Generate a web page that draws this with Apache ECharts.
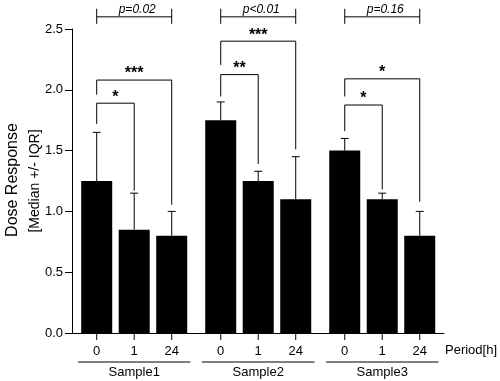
<!DOCTYPE html>
<html>
<head>
<meta charset="utf-8">
<script src="https://cdn.jsdelivr.net/npm/echarts@6/dist/echarts.min.js"></script>
<style>html,body{margin:0;padding:0;background:#fff}#c{width:500px;height:381px}</style>
</head>
<body>
<div id="c"></div>
<script>
// ---- data ----
const categories = ['Sample1', 'Sample2', 'Sample3'];
const periods = ['0', '1', '24'];
const median = [[1.25, 0.85, 0.80], [1.75, 1.25, 1.10], [1.50, 1.10, 0.80]];
const upperIQR = [[1.65, 1.15, 1.00], [1.90, 1.33, 1.45], [1.60, 1.15, 1.00]];
const pValues = ['p=0.02', 'p<0.01', 'p=0.16'];
const pLevel = [2.6, 2.6, 2.6];
// significance brackets: [group, fromPeriod, toPeriod, level, leftLegEnd, rightLegEnd]
const sigMarks = ['*', '***', '**', '***', '*', '*'];
const sigBrackets = [
  [0, 0, 1, 1.89, 1.72, 1.17],
  [0, 0, 2, 2.08, 1.96, 1.055],
  [1, 0, 1, 2.125, 1.945, 1.39],
  [1, 0, 2, 2.40, 2.205, 1.51],
  [2, 0, 1, 1.875, 1.66, 1.18],
  [2, 0, 2, 2.09, 1.945, 1.08]
];
const yTicks = [0, 0.5, 1.0, 1.5, 2.0, 2.5];

// ---- layout helpers ----
const GROUP_STEP = 3.307;
const pos = (g, i) => g * GROUP_STEP + i;
const FONT = '"Liberation Sans", Arial, sans-serif';

const barData = [];
const errData = [];
const tickData = [];
categories.forEach((c, g) => {
  periods.forEach((p, i) => {
    barData.push([pos(g, i), median[g][i]]);
    errData.push([pos(g, i), median[g][i], upperIQR[g][i]]);
    tickData.push([pos(g, i), 0, i]);
  });
});
const groupData = categories.map((c, g) => [pos(g, 0), pos(g, 2), 0]);
const pData = categories.map((c, g) => [pos(g, 0), pos(g, 2), pLevel[g]]);
const sigData = sigBrackets.map(b => [pos(b[0], b[1]), pos(b[0], b[2]), b[3], b[4], b[5]]);

const chart = echarts.init(document.getElementById('c'), null, {renderer: 'canvas'});
const black = '#000';
const lineStyle = {stroke: black, lineWidth: 1, fill: null};

chart.setOption({
  animation: false,
  backgroundColor: '#fff',
  grid: {left: 72, top: 29, right: 56, bottom: 48, containLabel: false},
  xAxis: {
    type: 'value', min: -0.659, max: 9.261,
    axisLine: {show: true, onZero: false, lineStyle: {color: black, width: 1}},
    axisTick: {show: false}, axisLabel: {show: false}, splitLine: {show: false}
  },
  yAxis: {
    type: 'value', min: yTicks[0], max: yTicks[yTicks.length - 1], interval: 0.5,
    axisLine: {show: true, onZero: false, lineStyle: {color: black, width: 1}},
    axisTick: {show: true, length: 7, lineStyle: {color: black, width: 1}},
    axisLabel: {color: black, fontSize: 13, fontFamily: FONT, margin: 9,
      formatter: v => v.toFixed(1)},
    splitLine: {show: false}
  },
  graphic: [
    {type: 'text', x: 13, y: 180, rotation: Math.PI / 2,
      style: {text: 'Dose Response', fill: black, font: '16px ' + FONT, align: 'center', verticalAlign: 'middle'}},
    {type: 'text', x: 35, y: 181, rotation: Math.PI / 2,
      style: {text: '[Median +/- IQR]', fill: black, font: '14px ' + FONT, align: 'center', verticalAlign: 'middle'}},
    {type: 'text', x: 445, y: 350,
      style: {text: 'Period[h]', fill: black, font: '13px ' + FONT, align: 'left', verticalAlign: 'middle'}}
  ],
  series: [
    {
      type: 'bar', data: barData, barWidth: 31,
      itemStyle: {color: black}, silent: true
    },
    {
      type: 'custom', data: errData, encode: {x: 0, y: [1, 2]}, silent: true,
      renderItem: (params, api) => {
        const b = api.coord([api.value(0), api.value(1)]);
        const t = api.coord([api.value(0), api.value(2)]);
        return {type: 'group', children: [
          {type: 'line', shape: {x1: b[0], y1: b[1], x2: t[0], y2: t[1]}, style: lineStyle},
          {type: 'line', shape: {x1: t[0] - 4, y1: t[1], x2: t[0] + 4, y2: t[1]}, style: lineStyle}
        ]};
      }
    },
    {
      type: 'custom', data: tickData, encode: {x: 0, y: 1}, silent: true,
      renderItem: (params, api) => {
        const p = api.coord([api.value(0), 0]);
        return {type: 'group', children: [
          {type: 'line', shape: {x1: p[0], y1: p[1], x2: p[0], y2: p[1] + 7}, style: lineStyle},
          {type: 'text', style: {text: periods[api.value(2)], x: p[0], y: p[1] + 18, fill: black,
            font: '13px ' + FONT, align: 'center', verticalAlign: 'middle'}}
        ]};
      }
    },
    {
      type: 'custom', data: groupData, encode: {x: [0, 1], y: 2}, silent: true,
      renderItem: (params, api) => {
        const a = api.coord([api.value(0) - 0.5, 0]);
        const b = api.coord([api.value(1) + 0.5, 0]);
        const y = a[1] + 29;
        return {type: 'group', children: [
          {type: 'line', shape: {x1: a[0], y1: y, x2: b[0], y2: y}, style: lineStyle},
          {type: 'text', style: {text: categories[params.dataIndex], x: (a[0] + b[0]) / 2, y: y + 10, fill: black,
            font: '13px ' + FONT, align: 'center', verticalAlign: 'middle'}}
        ]};
      }
    },
    {
      type: 'custom', data: pData, encode: {x: [0, 1], y: 2}, silent: true, clip: false,
      renderItem: (params, api) => {
        const a = api.coord([api.value(0), api.value(2)]);
        const b = api.coord([api.value(1), api.value(2)]);
        return {type: 'group', children: [
          {type: 'line', shape: {x1: a[0], y1: a[1], x2: b[0], y2: b[1]}, style: lineStyle},
          {type: 'line', shape: {x1: a[0], y1: a[1] - 8, x2: a[0], y2: a[1] + 7}, style: lineStyle},
          {type: 'line', shape: {x1: b[0], y1: b[1] - 8, x2: b[0], y2: b[1] + 7}, style: lineStyle},
          {type: 'text', style: {text: pValues[params.dataIndex], x: (a[0] + b[0]) / 2 + 3, y: a[1] - 7, fill: black,
            font: 'italic 12px ' + FONT, align: 'center', verticalAlign: 'middle'}}
        ]};
      }
    },
    {
      type: 'custom', data: sigData, encode: {x: [0, 1], y: [2, 3, 4]}, silent: true, clip: false,
      renderItem: (params, api) => {
        const a = api.coord([api.value(0), api.value(2)]);
        const b = api.coord([api.value(1), api.value(2)]);
        const la = api.coord([api.value(0), api.value(3)]);
        const rb = api.coord([api.value(1), api.value(4)]);
        return {type: 'group', children: [
          {type: 'polyline', shape: {points: [[la[0], la[1]], [a[0], a[1]], [b[0], b[1]], [rb[0], rb[1]]]}, style: lineStyle},
          {type: 'text', style: {text: sigMarks[params.dataIndex], x: (a[0] + b[0]) / 2, y: a[1] - 6, fill: black,
            font: 'bold 16px ' + FONT, align: 'center', verticalAlign: 'middle'}}
        ]};
      }
    }
  ]
});
</script>
</body>
</html>
